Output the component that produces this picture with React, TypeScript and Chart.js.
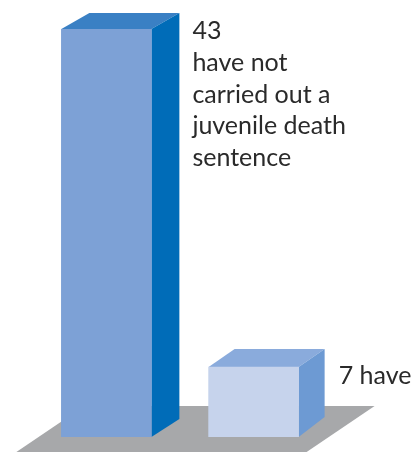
import React, { useEffect, useRef } from "react";
import { Chart, registerables } from "chart.js";

Chart.register(...registerables);

const categories = ["have not", "have"];
const counts = [43, 7];
const labelLines = [
  ["43", "have not", "carried out a", "juvenile death", "sentence"],
  ["7 have"],
];

const FRONT = ["#7da1d6", "#c6d3ec"];
const TOP = ["#3a80c4", "#8aabdc"];
const SIDE = ["#006cb8", "#6d9ad3"];
const FLOOR = "#a7a8aa";
const TEXT = "#2a2a2a";
const DEPTH = [
  { dx: 28, dy: 16 },
  { dx: 26, dy: 18 },
];
const FONT = '25px Lato';
const AXIS_MIN = -0.455;

function poly(ctx: CanvasRenderingContext2D, pts: number[][], color: string) {
  ctx.beginPath();
  pts.forEach(([x, y], i) => (i ? ctx.lineTo(x, y) : ctx.moveTo(x, y)));
  ctx.closePath();
  ctx.fillStyle = color;
  ctx.fill();
}

const boxPlugin = {
  id: "box3d",
  beforeDatasetsDraw(chart: any) {
    const ctx = chart.ctx as CanvasRenderingContext2D;
    const bars = chart.getDatasetMeta(0).data;
    const base = bars[0].base;
    const first = bars[0];
    const last = bars[bars.length - 1];
    const left = first.x - first.width / 2;
    const right = last.x + last.width / 2;
    const rise = base - 31;
    const h = chart.height;
    ctx.save();
    poly(
      ctx,
      [
        [left - 45, h],
        [left + 23, rise],
        [right + 76, rise],
        [right + 8, h],
      ],
      FLOOR
    );
    bars.forEach((bar: any, i: number) => {
      const l = bar.x - bar.width / 2;
      const r = bar.x + bar.width / 2;
      const { dx, dy } = DEPTH[i];
      poly(ctx, [[l, bar.y], [l + dx, bar.y - dy], [r + dx, bar.y - dy], [r, bar.y]], TOP[i]);
      poly(ctx, [[r, bar.y], [r + dx, bar.y - dy], [r + dx, bar.base - dy - 2], [r, bar.base]], SIDE[i]);
    });
    ctx.restore();
  },
  afterDatasetsDraw(chart: any) {
    const ctx = chart.ctx as CanvasRenderingContext2D;
    const bars = chart.getDatasetMeta(0).data;
    ctx.save();
    ctx.font = FONT;
    ctx.fillStyle = TEXT;
    ctx.textAlign = "left";
    ctx.textBaseline = "alphabetic";
    bars.forEach((bar: any, i: number) => {
      const x = bar.x + bar.width / 2 + DEPTH[i].dx + (i === 0 ? 13 : 14);
      const y = bar.y + (i === 0 ? 10 : 17);
      labelLines[i].forEach((line, j) => ctx.fillText(line, x, y + j * 31.8));
    });
    ctx.restore();
  },
};

export default function App() {
  const ref = useRef<HTMLCanvasElement>(null);
  useEffect(() => {
    const chart = new Chart(ref.current!, {
      type: "bar",
      data: {
        labels: categories,
        datasets: [
          {
            data: counts,
            base: AXIS_MIN,
            backgroundColor: FRONT,
            borderWidth: 0,
            barThickness: 90,
          },
        ],
      },
      options: {
        responsive: false,
        animation: false,
        layout: { padding: { left: 32.75, right: 83.75, top: 29, bottom: 15 } },
        plugins: { legend: { display: false }, tooltip: { enabled: false } },
        scales: {
          x: { display: false },
          y: { display: false, min: AXIS_MIN, max: 43 },
        },
      },
      plugins: [boxPlugin],
    });
    return () => chart.destroy();
  }, []);
  return (
    <div style={{ position: "absolute", left: 0, top: 0, width: 411, height: 452, background: "#fff" }}>
      <canvas ref={ref} width={411} height={452} style={{ display: "block" }} />
    </div>
  );
}
